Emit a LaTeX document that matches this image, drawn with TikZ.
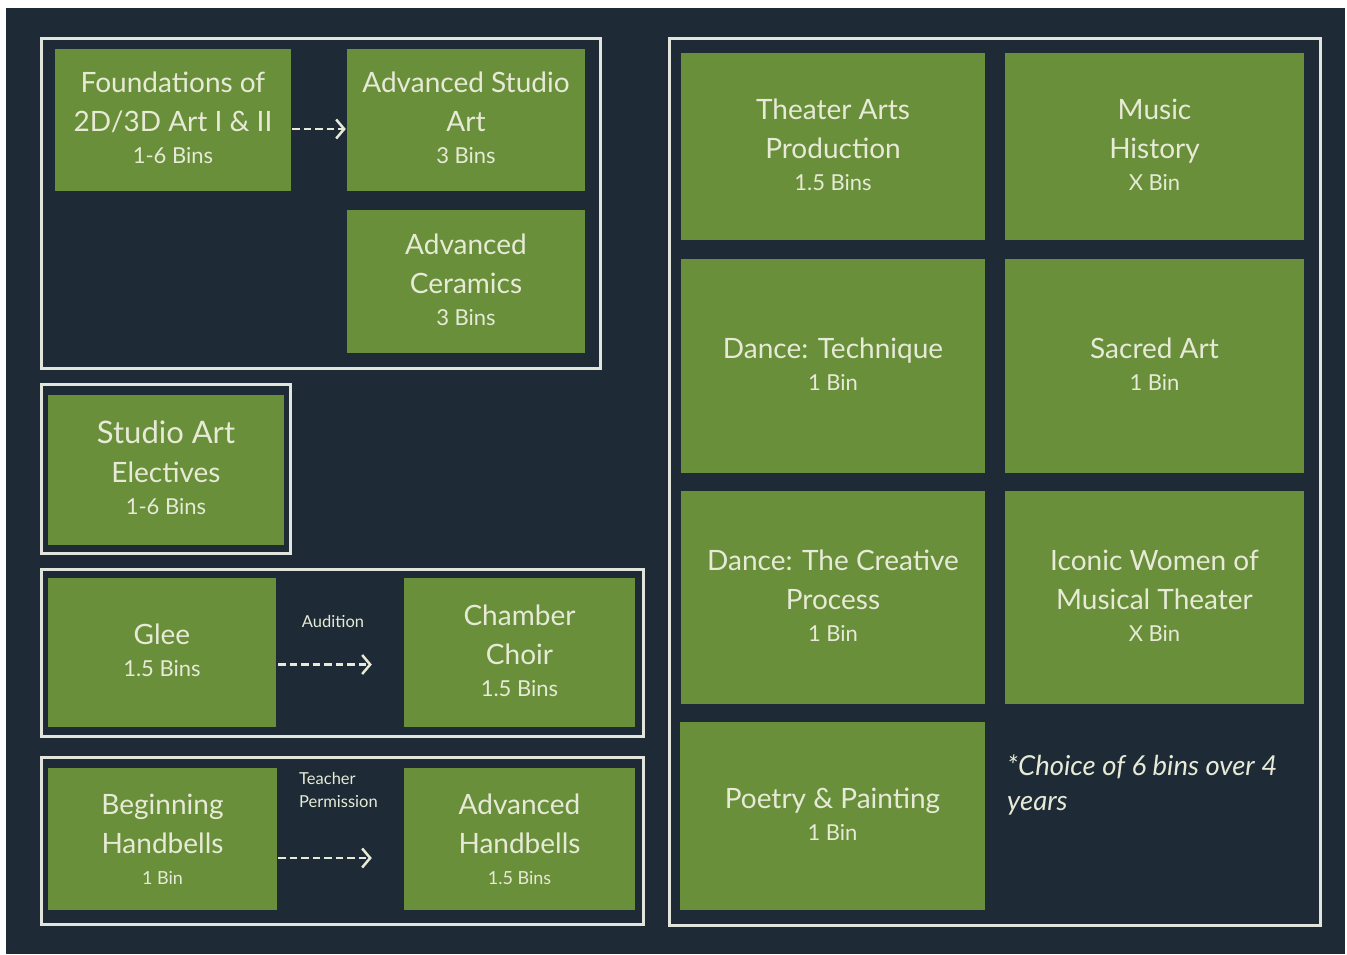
\documentclass[tikz,border=0pt]{standalone}
\usepackage{fontspec}
\setmainfont{Lato}
\usetikzlibrary{arrows.meta,calc}
\definecolor{bgdark}{HTML}{1E2A35}
\definecolor{grn}{HTML}{6A8F3A}
\definecolor{pale}{HTML}{E6EAD6}
\definecolor{rim}{HTML}{E2E5DC}
\newcommand{\binsline}[1]{\\[-7pt]{\fontsize{22}{26}\selectfont #1\rule[-4pt]{0pt}{4pt}}}
\newcommand{\smallbins}[1]{\\[-8pt]{\fontsize{18}{22}\selectfont #1}}

\begin{document}
\begin{tikzpicture}[x=1pt, y=-1pt,
	course/.style={fill=grn, text=pale, align=center, inner sep=0pt,
		font=\fontsize{28}{39}\selectfont},
	frame/.style={draw=rim, line width=3pt},
	link/.style={draw=pale, line width=2.5pt, dash pattern=on 7.5pt off 4pt,
		-{Straight Barb[length=8pt,width=19pt]}},
	cue/.style={text=pale, align=left, inner sep=0pt, font=\fontsize{16.5}{23}\selectfont}]
	\useasboundingbox (0,0) rectangle (1347,954);
	\fill[white] (0,0) rectangle (1347,954);
	\fill[bgdark] (6,8) rectangle (1345,954);

	\draw[frame] (41,38) rectangle (600,368);
	\draw[frame] (41,384) rectangle (290,553);
	\draw[frame] (41,569) rectangle (643,736);
	\draw[frame] (41,757) rectangle (643,924);
	\draw[frame] (669,38) rectangle (1320,925);

	\node[course, minimum width=236pt, minimum height=142pt] (found) at (173,120)
		{Foundations of\\2D/3D Art I \& II\binsline{1-6 Bins}};
	\node[course, minimum width=238pt, minimum height=142pt] (advstudio) at (466,120)
		{Advanced Studio\\Art\binsline{3 Bins}};
	\node[course, minimum width=238pt, minimum height=143pt] (advceram) at (466,281.5)
		{Advanced\\Ceramics\binsline{3 Bins}};
	\node[course, minimum width=236pt, minimum height=150pt] (electives) at (166,470)
		{{\fontsize{31}{39}\selectfont Studio Art}\\[0pt]Electives\binsline{1-6 Bins}};
	\node[course, minimum width=228pt, minimum height=149pt] (glee) at (162,652.5)
		{Glee\binsline{1.5 Bins}};
	\node[course, minimum width=231pt, minimum height=149pt] (chamber) at (519.5,652.5)
		{Chamber\\Choir\binsline{1.5 Bins}};
	\node[course, minimum width=229pt, minimum height=142pt] (beghand) at (162.5,839)
		{Beginning\\Handbells\smallbins{1 Bin}};
	\node[course, minimum width=231pt, minimum height=142pt] (advhand) at (519.5,839)
		{Advanced\\Handbells\smallbins{1.5 Bins}};

	\node[course, minimum width=304pt, minimum height=187pt] (theater) at (833,146.5)
		{Theater Arts\\Production\binsline{1.5 Bins}};
	\node[course, minimum width=299pt, minimum height=187pt] (music) at (1154.5,146.5)
		{Music\\History\binsline{X Bin}};
	\node[course, minimum width=304pt, minimum height=214pt] (dtech) at (833,366)
		{Dance: Technique\binsline{1 Bin}};
	\node[course, minimum width=299pt, minimum height=214pt] (sacred) at (1154.5,366)
		{Sacred Art\binsline{1 Bin}};
	\node[course, minimum width=304pt, minimum height=213pt] (dcreat) at (833,597.5)
		{Dance: The Creative\\Process\binsline{1 Bin}};
	\node[course, minimum width=299pt, minimum height=213pt] (iconic) at (1154.5,597.5)
		{Iconic Women of\\Musical Theater\binsline{X Bin}};
	\node[course, minimum width=305pt, minimum height=188pt] (poetry) at (832.5,816)
		{Poetry \& Painting\binsline{1 Bin}};

	\node[text=pale, anchor=north west, align=left, inner sep=0pt,
		font=\fontsize{27.5}{35}\selectfont\itshape] (choice) at (1007,755)
		{*Choice of 6 bins over 4\\years};

	\node[cue] (audition) at (333,621) {Audition};
	\node[cue, anchor=west] (permission) at (299,790) {Teacher\\Permission};

	\draw[link] ($(found.east)+(1,9)$) -- ($(advstudio.west)+(-1,9)$);
	\draw[link, shorten <=2pt, shorten >=32pt] ($(glee.east)+(0,12)$) -- ($(chamber.west)+(0,12)$);
	\draw[link, shorten <=1pt, shorten >=32pt] ($(beghand.east)+(0,19)$) -- ($(advhand.west)+(0,19)$);
\end{tikzpicture}
\end{document}
